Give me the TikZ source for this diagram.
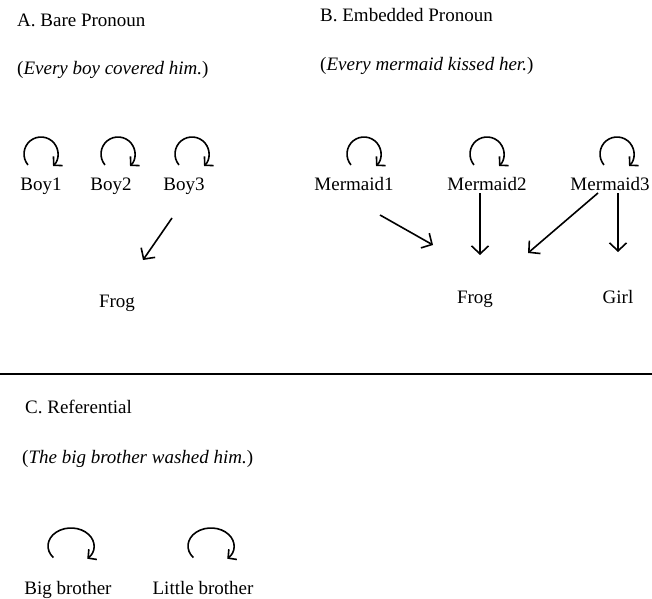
\documentclass[tikz,border=0pt]{standalone}
\usepackage{fontspec}
\setmainfont{Liberation Serif}
\usetikzlibrary{arrows.meta, calc}

\begin{document}
\begin{tikzpicture}[
    x=1pt, y=1pt,
    lbl/.style={inner sep=0pt, anchor=base, font=\fontsize{19}{22}\selectfont},
    head/.style={inner sep=0pt, anchor=base west, font=\fontsize{19}{22}\selectfont},
    arrow/.style={-{Straight Barb[length=8pt, width=17pt]}, line width=1.6pt},
    selfloop/.style={-{Straight Barb[length=6pt, width=13pt]}, line width=1.6pt}
]
\useasboundingbox (0,0) rectangle (652,598);
% A. bare pronoun
\node[head] (hA) at (17,571) {A. Bare Pronoun};
\node[head] (sA) at (17,523) {(\textit{Every boy covered him.})};
\node[lbl] (boy1) at (41,408) {Boy1};
\node[lbl] (boy2) at (111,408) {Boy2};
\node[lbl] (boy3) at (184,408) {Boy3};
\node[lbl] (frogA) at (117,291) {Frog};
% B. embedded pronoun
\node[head] (hB) at (320,576) {B. Embedded Pronoun};
\node[head] (sB) at (320,527) {(\textit{Every mermaid kissed her.})};
\node[lbl] (m1) at (354,408) {Mermaid1};
\node[lbl] (m2) at (487,408) {Mermaid2};
\node[lbl] (m3) at (610,408) {Mermaid3};
\node[lbl] (frogB) at (475,295) {Frog};
\node[lbl] (girl) at (618,295) {Girl};
% C. referential
\node[head] (hC) at (25,185) {C. Referential};
\node[head] (sC) at (22,135) {(\textit{The big brother washed him.})};
\node[lbl] (big) at (68,4) {Big brother};
\node[lbl] (little) at (203,4) {Little brother};

\draw[line width=2pt] (0,224) -- (652,224);

% self loops
\foreach \n/\dx in {boy1/0, boy2/7, boy3/8, m1/10, m2/0, m3/7}
  \draw[selfloop] ($(\n.base)+(\dx,36)+(220:17)$) arc[start angle=220, end angle=-45, radius=17];
\foreach \n/\dx in {big/3, little/8}
  \draw[selfloop] ($(\n.base)+(\dx,48)+(220:23 and 18)$) arc[start angle=220, end angle=-45, x radius=23, y radius=18];

% arrows
\draw[arrow] ([shift={(-12,-28)}]boy3.base) -- ([shift={(26,47)}]frogA.base);
\draw[arrow] ([shift={(26,-25)}]m1.base) -- ([shift={(-42,58)}]frogB.base);
\draw[arrow] ([shift={(-7,-3)}]m2.base) -- ([shift={(5,48)}]frogB.base);
\draw[arrow] ([shift={(-12,-3)}]m3.base) -- ([shift={(53,50)}]frogB.base);
\draw[arrow] ([shift={(8,-3)}]m3.base) -- ([shift={(0,51)}]girl.base);
\end{tikzpicture}
\end{document}
